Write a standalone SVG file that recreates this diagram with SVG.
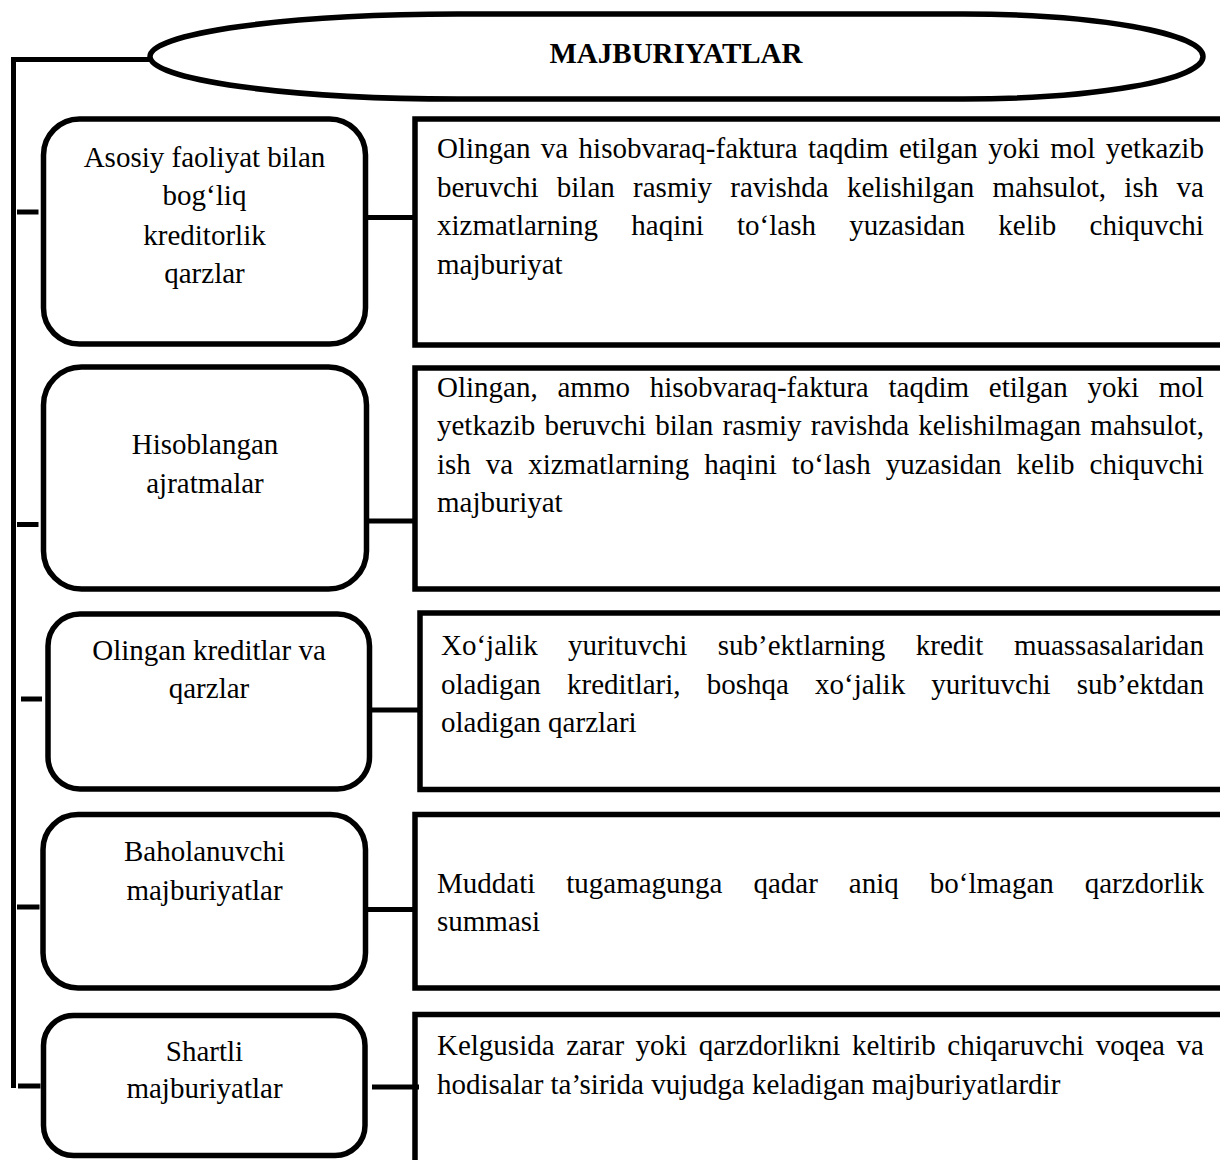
<svg xmlns="http://www.w3.org/2000/svg" width="1220" height="1160" viewBox="0 0 1220 1160">
<style>
.box{fill:#fff;stroke:#000;stroke-width:5.5}
.rbox{fill:none;stroke:#000;stroke-width:5.5}
.ln{fill:none;stroke:#000;stroke-width:5}
.t{font-family:"Liberation Serif","Times New Roman",serif;font-size:29px;fill:#000}
.c{text-anchor:middle}
.h{font-weight:bold}
</style>
<rect x="0" y="0" width="1220" height="1160" fill="#fff"/>
<g id="connectors">
<path class="ln" d="M13.5 1088 V59.5 H152"/>
<path class="ln" d="M17 212 H38.5"/>
<path class="ln" d="M17 524.5 H38.5"/>
<path class="ln" d="M21 699 H42"/>
<path class="ln" d="M17 907 H39.5"/>
<path class="ln" d="M18 1086 H40.5"/>
<path class="ln" d="M365 217.5 H415"/>
<path class="ln" d="M366 521 H415"/>
<path class="ln" d="M370 710 H420"/>
<path class="ln" d="M365 909.5 H415"/>
<path class="ln" d="M372 1087 H419"/>
</g>
<g id="root">
<path class="box" d="M458 14 L963 14 A240 42.5 0 0 1 963 99 L458 99 A308 42.5 0 0 1 458 14 Z"/>
<text class="t c h" x="676" y="63">MAJBURIYATLAR</text>
</g>
<g id="n1">
<rect class="box" x="43.5" y="119" width="322" height="225" rx="36"/>
<text class="t c" x="204.5" y="166.5">Asosiy faoliyat bilan</text>
<text class="t c" x="204.5" y="205">bog‘liq</text>
<text class="t c" x="204.5" y="244.5">kreditorlik</text>
<text class="t c" x="204.5" y="283">qarzlar</text>
</g>
<g id="d1">
<path class="rbox" d="M1226 119 H415 V345 H1226"/>
<text class="t" x="437" y="158" style="word-spacing:3.14px">Olingan va hisobvaraq-faktura taqdim etilgan yoki mol yetkazib</text>
<text class="t" x="437" y="196.5" style="word-spacing:11.07px">beruvchi bilan rasmiy ravishda kelishilgan mahsulot, ish va</text>
<text class="t" x="437" y="235" style="word-spacing:25.97px">xizmatlarning haqini to‘lash yuzasidan kelib chiquvchi</text>
<text class="t" x="437" y="273.5">majburiyat</text>
</g>
<g id="n2">
<rect class="box" x="43.5" y="367" width="323" height="222" rx="38"/>
<text class="t c" x="205" y="454">Hisoblangan</text>
<text class="t c" x="205" y="492.5">ajratmalar</text>
</g>
<g id="d2">
<path class="rbox" d="M1226 368 H415 V589 H1226"/>
<text class="t" x="437" y="396.5" style="word-spacing:12.52px">Olingan, ammo hisobvaraq-faktura taqdim etilgan yoki mol</text>
<text class="t" x="437" y="435" style="word-spacing:2.05px">yetkazib beruvchi bilan rasmiy ravishda kelishilmagan mahsulot,</text>
<text class="t" x="437" y="473.5" style="word-spacing:7.74px">ish va xizmatlarning haqini to‘lash yuzasidan kelib chiquvchi</text>
<text class="t" x="437" y="512">majburiyat</text>
</g>
<g id="n3">
<rect class="box" x="48" y="614" width="321.5" height="175" rx="32"/>
<text class="t c" x="209" y="660">Olingan kreditlar va</text>
<text class="t c" x="209" y="698">qarzlar</text>
</g>
<g id="d3">
<path class="rbox" d="M1226 613 H420 V789.5 H1226"/>
<text class="t" x="441" y="655" style="word-spacing:23.22px">Xo‘jalik yurituvchi sub’ektlarning kredit muassasalaridan</text>
<text class="t" x="441" y="693.5" style="word-spacing:18.89px">oladigan kreditlari, boshqa xo‘jalik yurituvchi sub’ektdan</text>
<text class="t" x="441" y="732">oladigan qarzlari</text>
</g>
<g id="n4">
<rect class="box" x="43" y="814.5" width="322.5" height="173.5" rx="35"/>
<text class="t c" x="204.5" y="861">Baholanuvchi</text>
<text class="t c" x="204.5" y="900">majburiyatlar</text>
</g>
<g id="d4">
<path class="rbox" d="M1226 814.5 H415 V988 H1226"/>
<text class="t" x="437" y="892.5" style="word-spacing:23.73px">Muddati tugamagunga qadar aniq bo‘lmagan qarzdorlik</text>
<text class="t" x="437" y="931">summasi</text>
</g>
<g id="n5">
<rect class="box" x="43.5" y="1015.5" width="321.5" height="140" rx="30"/>
<text class="t c" x="204.5" y="1060.5">Shartli</text>
<text class="t c" x="204.5" y="1098">majburiyatlar</text>
</g>
<g id="d5">
<path class="rbox" d="M1226 1014.5 H415 V1170"/>
<text class="t" x="437" y="1055" style="word-spacing:4.29px">Kelgusida zarar yoki qarzdorlikni keltirib chiqaruvchi voqea va</text>
<text class="t" x="437" y="1093.5">hodisalar ta’sirida vujudga keladigan majburiyatlardir</text>
</g>
</svg>
